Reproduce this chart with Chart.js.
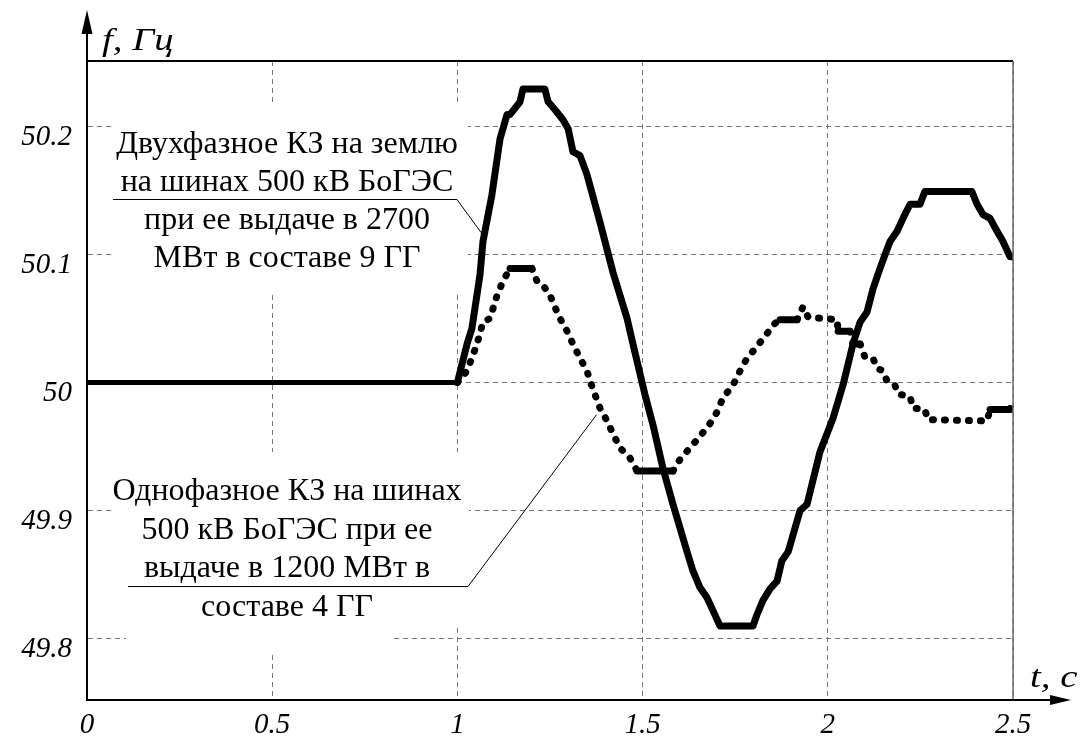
<!DOCTYPE html>
<html>
<head>
<meta charset="utf-8">
<script src="https://cdn.jsdelivr.net/npm/chart.js@4.4.1/dist/chart.umd.min.js"></script>
<style>
html, body { margin: 0; padding: 0; background: #fff; }
#wrap { width: 1085px; height: 743px; position: relative; }
</style>
</head>
<body>
<div id="wrap"><canvas id="freqChart"></canvas></div>
<script>
const xTicks = [0, 0.5, 1, 1.5, 2, 2.5];
const yTicks = [49.8, 49.9, 50, 50.1, 50.2];

// двухфазное КЗ (сплошная)
const tTwoPhase = [0, 1.0, 1.026, 1.039, 1.061, 1.069, 1.093, 1.115, 1.134, 1.142, 1.161, 1.169, 1.177, 1.236,
  1.245, 1.263, 1.285, 1.299, 1.312, 1.331, 1.35, 1.385, 1.42, 1.458, 1.474, 1.506, 1.528, 1.555, 1.582,
  1.62, 1.636, 1.655, 1.674, 1.69, 1.709, 1.798, 1.809, 1.825, 1.844, 1.863, 1.876, 1.893, 1.925, 1.944,
  1.979, 2.014, 2.041, 2.068, 2.087, 2.106, 2.122, 2.141, 2.16, 2.168, 2.187, 2.203, 2.222, 2.249, 2.262,
  2.389, 2.403, 2.419, 2.438, 2.457, 2.473, 2.492, 2.5];
const fTwoPhase = [50, 50, 50.03, 50.042, 50.084, 50.11, 50.146, 50.19, 50.209, 50.209, 50.216, 50.219, 50.229, 50.229,
  50.219, 50.213, 50.205, 50.198, 50.18, 50.177, 50.162, 50.125, 50.086, 50.05, 50.03, 49.991, 49.967, 49.933, 49.905,
  49.868, 49.853, 49.84, 49.832, 49.822, 49.81, 49.81, 49.819, 49.83, 49.839, 49.845, 49.861, 49.868, 49.9, 49.905,
  49.946, 49.972, 49.998, 50.03, 50.047, 50.055, 50.073, 50.089, 50.104, 50.11, 50.118, 50.128, 50.139, 50.139, 50.149,
  50.149, 50.139, 50.131, 50.128, 50.118, 50.11, 50.098, 50.098];

// однофазное КЗ (пунктир)
const tOnePhase = [0, 1.0, 1.026, 1.053, 1.069, 1.088, 1.107, 1.123, 1.142, 1.201, 1.215, 1.231, 1.25, 1.263,
  1.277, 1.296, 1.312, 1.331, 1.35, 1.358, 1.385, 1.404, 1.42, 1.439, 1.466, 1.485, 1.582, 1.601, 1.628,
  1.655, 1.682, 1.701, 1.717, 1.744, 1.763, 1.782, 1.803, 1.83, 1.857, 1.871, 1.917, 1.933, 1.947, 2.025,
  2.028, 2.06, 2.068, 2.087, 2.1, 2.122, 2.133, 2.149, 2.16, 2.181, 2.19, 2.222, 2.23, 2.262, 2.27,
  2.43, 2.438, 2.492, 2.497];
const fOnePhase = [50, 50, 50.009, 50.03, 50.047, 50.05, 50.068, 50.079, 50.089, 50.089, 50.079, 50.076, 50.068, 50.059,
  50.05, 50.04, 50.03, 50.019, 50.009, 50.001, 49.98, 49.97, 49.96, 49.949, 49.941, 49.931, 49.931, 49.94, 49.949,
  49.958, 49.968, 49.977, 49.988, 49.998, 50.009, 50.019, 50.026, 50.036, 50.046, 50.049, 50.049, 50.059, 50.051, 50.049,
  50.04, 50.04, 50.03, 50.03, 50.02, 50.019, 50.011, 50.009, 50.001, 49.998, 49.991, 49.989, 49.98, 49.979, 49.971,
  49.97, 49.979, 49.979, 49.987];

const noteTwoPhase = ['Двухфазное КЗ на землю', 'на шинах 500 кВ БоГЭС', 'при ее выдаче в 2700', 'МВт в составе 9 ГГ'];
const noteOnePhase = ['Однофазное КЗ на шинах', '500 кВ БоГЭС при ее', 'выдаче в 1200 МВт в', 'составе 4 ГГ'];

const serif = "'Liberation Serif', 'Times New Roman', serif";
const dots = [1, 11];

function toPoints(ts, fs) {
  return ts.map((t, i) => ({ x: t, y: fs[i] }));
}

function drawNote(ctx, lines, cx, firstBase, step) {
  ctx.textAlign = 'center';
  ctx.textBaseline = 'alphabetic';
  lines.forEach((s, i) => ctx.fillText(s, cx, firstBase + i * step));
}

function leader(ctx, x0, x1, y, tip) {
  ctx.beginPath();
  ctx.moveTo(x0, y);
  ctx.lineTo(x1, y);
  ctx.lineTo(tip[0], tip[1]);
  ctx.stroke();
}

// подпись оси, немного растянутая по горизонтали как в оригинале
function axisTitle(ctx, text, x, y) {
  ctx.save();
  ctx.translate(x, y);
  ctx.scale(1.25, 1);
  ctx.fillText(text, 0, 0);
  ctx.restore();
}

const decor = {
  id: 'decor',
  beforeDatasetsDraw(chart) {
    const ctx = chart.ctx;
    ctx.save();
    ctx.fillStyle = '#fff';
    ctx.fillRect(112, 104, 356, 190);
    ctx.fillRect(113, 452, 356, 176);
    ctx.fillRect(126, 628, 266, 24);
    ctx.restore();
  },
  afterDatasetsDraw(chart) {
    const ctx = chart.ctx;
    const xs = chart.scales.x, ys = chart.scales.y;
    ctx.save();
    ctx.fillStyle = '#000';
    ctx.font = '32px ' + serif;
    drawNote(ctx, noteTwoPhase, 287, 153, 38);
    drawNote(ctx, noteOnePhase, 287, 500, 38.5);
    ctx.strokeStyle = '#000';
    ctx.lineWidth = 1;
    leader(ctx, 113, 457, 199.5, [xs.getPixelForValue(1.074), ys.getPixelForValue(50.113)]);
    leader(ctx, 128, 468, 586.5, [xs.getPixelForValue(1.376), ys.getPixelForValue(49.975)]);
    ctx.restore();
  },
  afterDraw(chart) {
    const ctx = chart.ctx;
    const a = chart.chartArea;
    ctx.save();
    // рамка сверху и справа
    ctx.strokeStyle = '#000';
    ctx.lineWidth = 2;
    ctx.beginPath();
    ctx.moveTo(a.left, a.top);
    ctx.lineTo(a.right, a.top);
    ctx.stroke();
    ctx.strokeStyle = '#666';
    ctx.lineWidth = 1.5;
    ctx.beginPath();
    ctx.moveTo(a.right, a.top);
    ctx.lineTo(a.right, a.bottom);
    ctx.stroke();
    // оси со стрелками
    ctx.strokeStyle = '#000';
    ctx.lineWidth = 2;
    ctx.beginPath();
    ctx.moveTo(a.left, a.bottom);
    ctx.lineTo(a.left, 24);
    ctx.moveTo(a.left, a.bottom);
    ctx.lineTo(1056, a.bottom);
    ctx.stroke();
    ctx.fillStyle = '#000';
    ctx.beginPath();
    ctx.moveTo(a.left, 10);
    ctx.lineTo(a.left - 5.5, 34);
    ctx.lineTo(a.left + 5.5, 34);
    ctx.closePath();
    ctx.fill();
    ctx.beginPath();
    ctx.moveTo(1071, a.bottom);
    ctx.lineTo(1050, a.bottom - 5);
    ctx.lineTo(1050, a.bottom + 5);
    ctx.closePath();
    ctx.fill();
    ctx.font = 'italic 31px ' + serif;
    ctx.textAlign = 'left';
    ctx.textBaseline = 'alphabetic';
    axisTitle(ctx, 'f, Гц', 102, 50);
    axisTitle(ctx, 't, c', 1030, 687);
    ctx.restore();
  }
};

new Chart(document.getElementById('freqChart'), {
  type: 'line',
  data: {
    datasets: [
      {
        label: 'Двухфазное КЗ на землю',
        data: toPoints(tTwoPhase, fTwoPhase),
        borderColor: '#000',
        borderWidth: 7,
        borderJoinStyle: 'round',
        borderCapStyle: 'round',
        pointRadius: 0,
        segment: {
          borderWidth: c => (c.p0.parsed.x < 1 ? 5 : 7),
        },
      },
      {
        label: 'Однофазное КЗ',
        data: toPoints(tOnePhase, fOnePhase),
        borderColor: '#000',
        borderWidth: 7,
        borderCapStyle: 'round',
        borderJoinStyle: 'round',
        borderDash: dots,
        pointRadius: 0,
        segment: {
          borderWidth: c => (c.p0.parsed.x < 1 ? 5 : 7),
          borderDash: c => (c.p0.parsed.x < 1 || c.p0.parsed.y === c.p1.parsed.y ? [] : dots),
        },
      },
    ],
  },
  options: {
    responsive: true,
    maintainAspectRatio: false,
    animation: false,
    events: [],
    layout: { padding: { top: 61, right: 72, left: 0, bottom: 0 } },
    plugins: {
      legend: { display: false },
      tooltip: { enabled: false },
    },
    scales: {
      x: {
        type: 'linear',
        min: 0,
        max: 2.5,
        afterBuildTicks: s => { s.ticks = xTicks.map(v => ({ value: v })); },
        afterFit: s => { s.height = 43; },
        grid: { color: '#777', lineWidth: 1, drawTicks: false },
        border: { display: true, color: '#000', width: 2, dash: [5, 4] },
        ticks: {
          color: '#000',
          font: { family: serif, size: 29, style: 'italic' },
          padding: 8,
          maxRotation: 0,
          callback: v => String(v),
        },
      },
      y: {
        type: 'linear',
        min: 49.7523,
        max: 50.2508,
        afterBuildTicks: s => { s.ticks = yTicks.map(v => ({ value: v })); },
        afterFit: s => { s.width = 87; },
        grid: { color: '#777', lineWidth: 1, drawTicks: false },
        border: { display: true, color: '#000', width: 2, dash: [5, 4] },
        ticks: {
          color: '#000',
          font: { family: serif, size: 29, style: 'italic' },
          padding: 15,
          labelOffset: 11,
          callback: v => String(v),
        },
      },
    },
  },
  plugins: [decor],
});
</script>
</body>
</html>
